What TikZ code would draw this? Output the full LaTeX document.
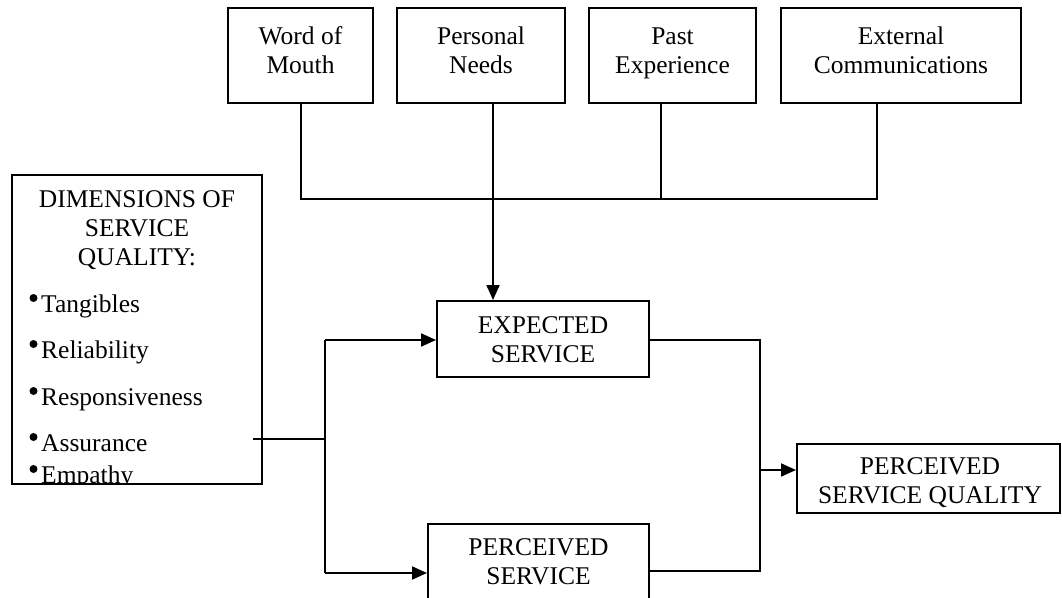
\documentclass[tikz,border=0pt]{standalone}
\usepackage{fontspec}
\setmainfont{Liberation Serif}
\usetikzlibrary{arrows.meta}
\tikzset{
  box/.style={draw, line width=2pt, inner sep=0pt},
  txt/.style={inner sep=0pt, align=center, anchor=base, font=\fontsize{25.5}{29}\selectfont},
  conn/.style={line width=2pt},
  arr/.style={conn, -{Triangle[length=15pt,width=13pt]}},
}
\begin{document}
\begin{tikzpicture}[x=1pt,y=-1pt]
\useasboundingbox (0,0) rectangle (1062,597);
% top boxes
\node[box, minimum width=145pt, minimum height=95pt] (wom) at (300.5,55.5) {};
\node[txt] (womt) at (300.5,73) {Word of\\Mouth};
\node[box, minimum width=168pt, minimum height=95pt] (pn) at (481,55.5) {};
\node[txt] (pnt) at (481,73) {Personal\\Needs};
\node[box, minimum width=167pt, minimum height=95pt] (pe) at (672.5,55.5) {};
\node[txt] (pet) at (672.5,73) {Past\\Experience};
\node[box, minimum width=240pt, minimum height=95pt] (ec) at (901,55.5) {};
\node[txt] (ect) at (901,73) {External\\Communications};
% middle boxes
\node[box, minimum width=212pt, minimum height=76pt] (exp) at (543,339) {};
\node[txt] (expt) at (543,362) {EXPECTED\\SERVICE};
\node[box, minimum width=221pt, minimum height=76pt] (per) at (538.5,562) {};
\node[txt] (pert) at (538.5,584) {PERCEIVED\\SERVICE};
\node[box, minimum width=263pt, minimum height=69pt] (psq) at (928.5,478.5) {};
\node[txt] (psqt) at (930,503) {PERCEIVED\\SERVICE QUALITY};
% dimensions box
\node[box, minimum width=250pt, minimum height=309pt] (dim) at (137,329.5) {};
\node[txt] (dimt) at (137,265) {DIMENSIONS OF\\SERVICE\\QUALITY:};
\begin{scope}
\clip (12,175) rectangle (262,483);
\foreach \n/\t/\yy in {i1/Tangibles/312, i2/Reliability/358, i3/Responsiveness/405, i4/Assurance/451, i5/Empathy/483}{
  \node[txt, anchor=base west] (\n) at (41,\yy) {\t};
  \fill (33.5,\yy-14) circle (4pt);
}
\end{scope}
% coordinates
\coordinate (j1) at (301,199);
\coordinate (j4) at (877,199);
\coordinate (tpe) at (661,199);
\coordinate (tpn) at (493,199);
\coordinate (ls) at (253,439);
\coordinate (lj) at (325,439);
\coordinate (lt) at (325,340);
\coordinate (lb) at (325,573);
\coordinate (rt) at (760,340);
\coordinate (rb) at (760,571);
\coordinate (rm) at (760,470);
% top connectors
\draw[conn] (wom.south -| j1) -- (j1) -- (j4) -- (ec.south -| j4);
\draw[conn] (pe.south -| tpe) -- (tpe);
\draw[arr] (pn.south -| tpn) -- (exp.north -| tpn);
% left connectors
\draw[conn] (ls) -- (lj);
\draw[conn] (lt) -- (lb);
\draw[arr] (lt) -- (exp.west |- lt);
\draw[arr] (lb) -- (per.west |- lb);
% right connectors
\draw[conn] (exp.east |- rt) -- (rt) -- (rb) -- (per.east |- rb);
\draw[arr] (rm) -- (psq.west |- rm);
\end{tikzpicture}
\end{document}
